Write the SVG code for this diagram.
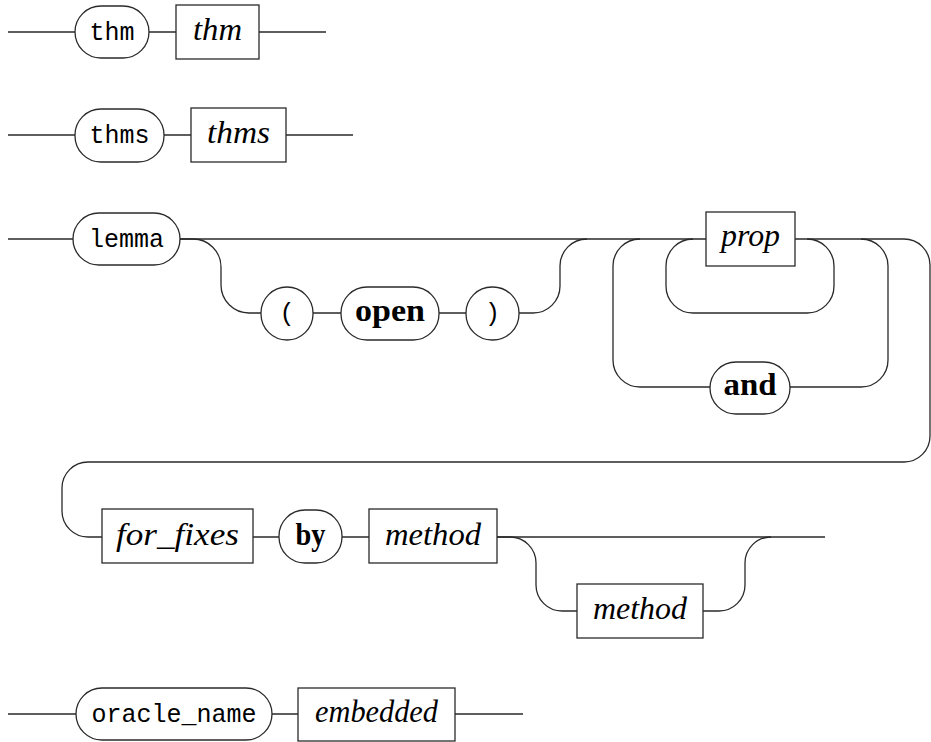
<svg xmlns="http://www.w3.org/2000/svg" width="931" height="742" viewBox="0 0 931 742">
<style>
.c{fill:none;stroke:#2a2a2a;stroke-width:1.3}
.n{fill:#fff;stroke:#2a2a2a;stroke-width:1.3}
.tt{font-family:"Liberation Mono","DejaVu Sans Mono",monospace;font-size:25px;fill:#000;text-anchor:middle}
.it{font-family:"Liberation Serif","DejaVu Serif",serif;font-style:italic;font-size:32px;fill:#000;text-anchor:middle}
.bf{font-family:"Liberation Serif","DejaVu Serif",serif;font-weight:bold;font-size:31px;fill:#000;text-anchor:middle}
</style>
<rect width="931" height="742" fill="#fff"/>
<g id="connectors">
<path class="c" d="M8,32H75M149,32H176M259,32H326"/>
<path class="c" d="M8,135H75M164,135H191M286,135H353"/>
<path class="c" d="M8,239H73M180,239H706"/>
<path class="c" d="M180,239H193A28,28 0 0 1 221,267V285A28,28 0 0 0 249,313H261M313,313H341M439,313H466M519,313H533A27,27 0 0 0 560,286V266A27,27 0 0 1 587,239"/>
<path class="c" d="M693,239A27,27 0 0 0 666,266V286A27,27 0 0 0 693,313H807A27,27 0 0 0 834,286V266A27,27 0 0 0 807,239"/>
<path class="c" d="M640,239A27,27 0 0 0 613,266V360A27,27 0 0 0 640,387H861A27,27 0 0 0 888,360V266A27,27 0 0 0 861,239"/>
<path class="c" d="M795,239H904A26,26 0 0 1 930,265V436A26,26 0 0 1 904,462H88A26,26 0 0 0 62,488V511A26,26 0 0 0 88,537H102"/>
<path class="c" d="M253,537H279M342,537H369M497,537H825"/>
<path class="c" d="M497,537H510A26,26 0 0 1 536,563V585A26,26 0 0 0 562,611H577M703,611H719A26,26 0 0 0 745,585V563A26,26 0 0 1 771,537"/>
<path class="c" d="M8,714H76M272,714H298M455,714H523"/>
</g>
<g id="n-thm-kw"><rect class="n" x="75" y="6" width="74" height="52" rx="26"/><text class="tt" x="112" y="40">thm</text></g>
<g id="n-thm"><rect class="n" x="176" y="5" width="83" height="54"/><text class="it" x="217.5" y="40" textLength="49" lengthAdjust="spacingAndGlyphs">thm</text></g>
<g id="n-thms-kw"><rect class="n" x="75" y="109" width="89" height="53" rx="26"/><text class="tt" x="119.5" y="143">thms</text></g>
<g id="n-thms"><rect class="n" x="191" y="108" width="95" height="54"/><text class="it" x="238.5" y="143" textLength="63" lengthAdjust="spacingAndGlyphs">thms</text></g>
<g id="n-lemma"><rect class="n" x="73" y="213" width="107" height="52" rx="26"/><text class="tt" x="126.5" y="247">lemma</text></g>
<g id="n-lparen"><rect class="n" x="261" y="287" width="52" height="53" rx="26"/><text class="tt" x="287" y="321">(</text></g>
<g id="n-open"><rect class="n" x="341" y="287" width="98" height="53" rx="26"/><text class="bf" x="390" y="321" textLength="70" lengthAdjust="spacingAndGlyphs">open</text></g>
<g id="n-rparen"><rect class="n" x="466" y="287" width="53" height="53" rx="26"/><text class="tt" x="492.5" y="321">)</text></g>
<g id="n-prop"><rect class="n" x="706" y="212" width="89" height="54"/><text class="it" x="750.5" y="246" textLength="59" lengthAdjust="spacingAndGlyphs">prop</text></g>
<g id="n-and"><rect class="n" x="710" y="362" width="80" height="52" rx="26"/><text class="bf" x="750" y="395" textLength="53" lengthAdjust="spacingAndGlyphs">and</text></g>
<g id="n-for_fixes"><rect class="n" x="102" y="509" width="151" height="54"/><text class="it" x="177.5" y="545" textLength="123" lengthAdjust="spacingAndGlyphs">for_fixes</text></g>
<g id="n-by"><rect class="n" x="279" y="510" width="63" height="53" rx="26"/><text class="bf" x="310.5" y="545" textLength="30" lengthAdjust="spacingAndGlyphs">by</text></g>
<g id="n-method1"><rect class="n" x="369" y="509" width="128" height="54"/><text class="it" x="433" y="545" textLength="96" lengthAdjust="spacingAndGlyphs">method</text></g>
<g id="n-method2"><rect class="n" x="577" y="584" width="126" height="54"/><text class="it" x="640" y="619" textLength="94" lengthAdjust="spacingAndGlyphs">method</text></g>
<g id="n-oracle_name"><rect class="n" x="76" y="688" width="196" height="52" rx="26"/><text class="tt" x="174" y="722">oracle_name</text></g>
<g id="n-embedded"><rect class="n" x="298" y="688" width="157" height="53"/><text class="it" x="376.5" y="722" textLength="123" lengthAdjust="spacingAndGlyphs">embedded</text></g>
</svg>
